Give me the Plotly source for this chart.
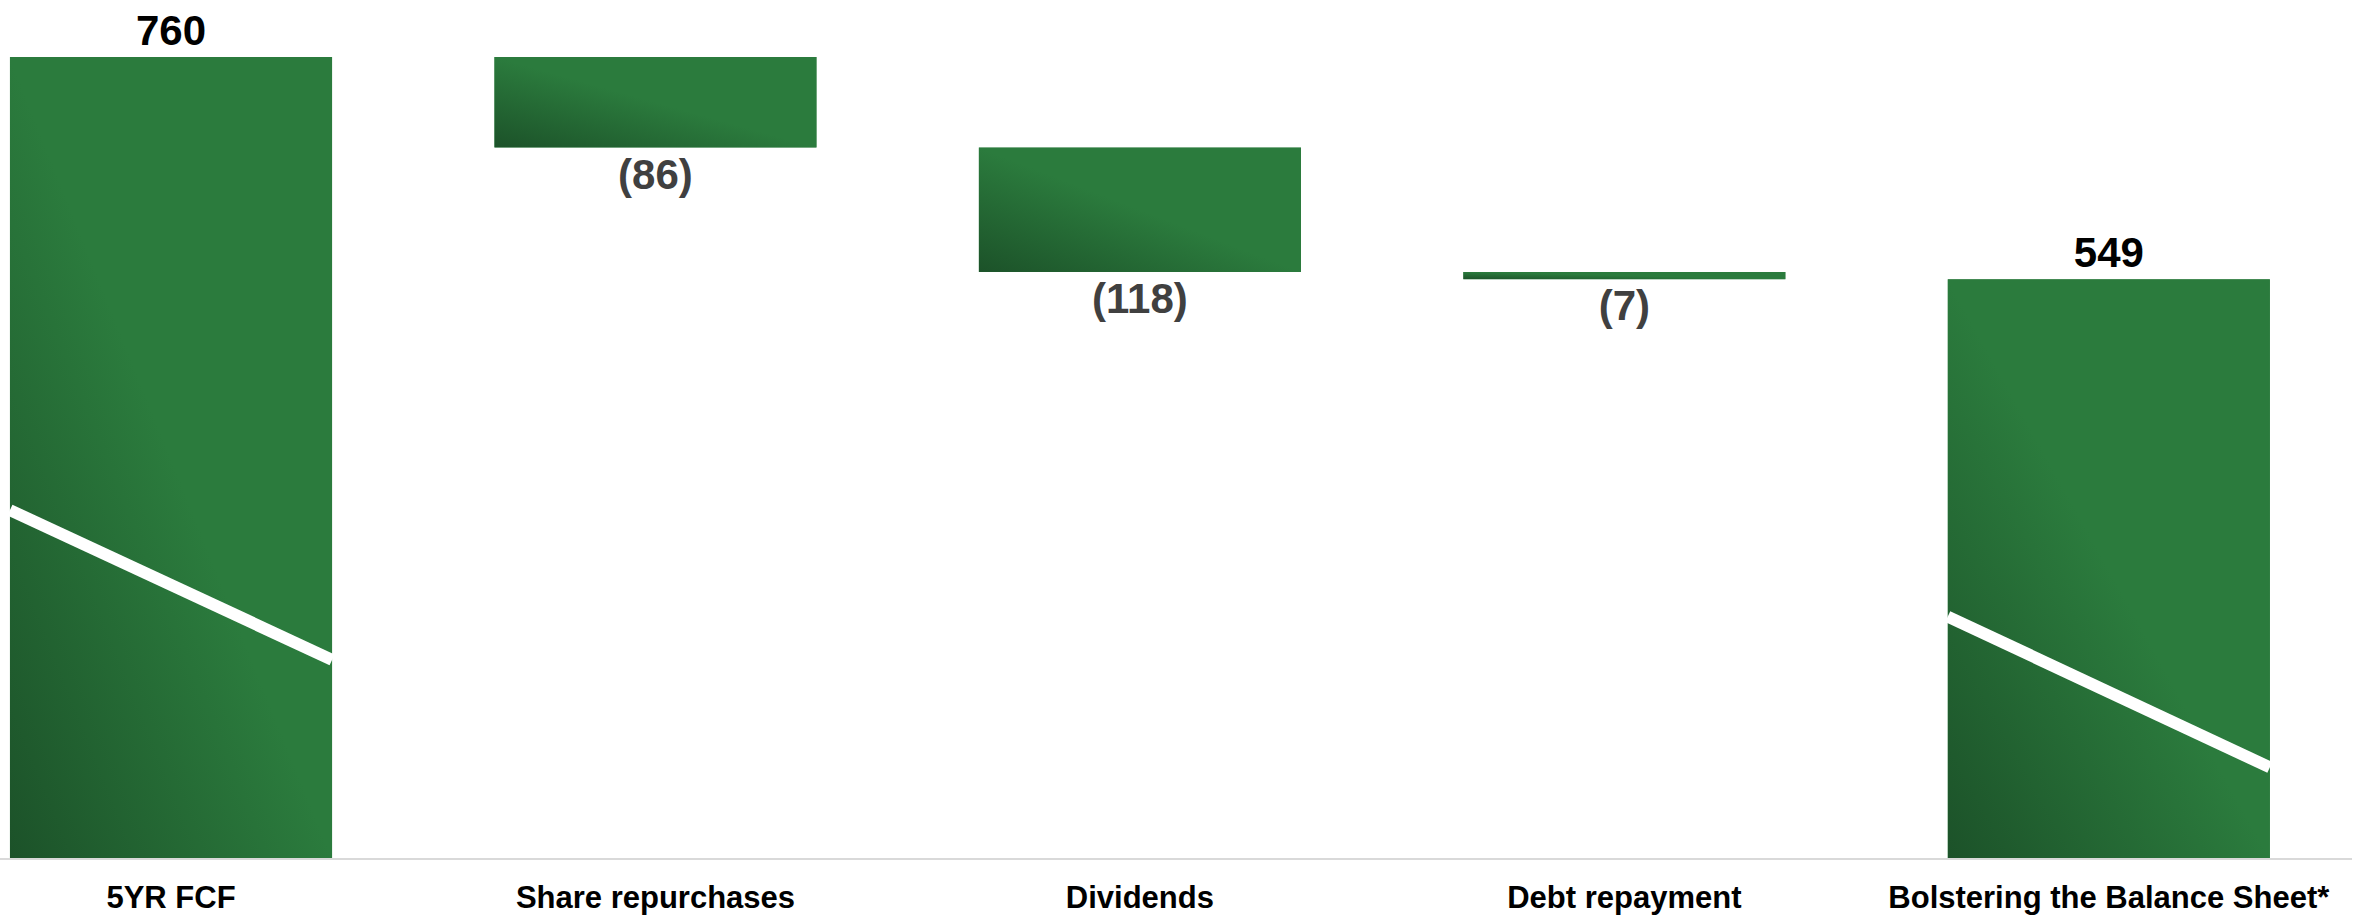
import base64
import plotly.graph_objects as go

categories = ["5YR FCF", "Share repurchases", "Dividends", "Debt repayment",
              "Bolstering the Balance Sheet*"]
values = [760, -86, -118, -7, 549]
measures = ["absolute", "relative", "relative", "relative", "total"]
value_labels = ["760", "(86)", "(118)", "(7)", "549"]

# white diagonal strokes on the two total bars: (bar index, y at left edge, y at right edge)
break_lines = [(0, 330, 188), (4, 229, 86)]

GREEN = "#2b7b3d"
DARK_GREEN = "#1c5229"
BAR_W = 0.665
FONT = "Arial, Liberation Sans, sans-serif"

# bar extents, computed the same way the waterfall does
bottoms, tops = [], []
running = 0
for v, m in zip(values, measures):
    if m == "absolute":
        lo, hi = 0, v
        running = v
    elif m == "total":
        lo, hi = 0, running
    else:
        lo, hi = sorted([running, running + v])
        running += v
    bottoms.append(lo)
    tops.append(hi)

label_colors = ["#000000" if v > 0 else "#404040" for v in values]

fig = go.Figure(go.Waterfall(
    x=categories,
    y=values,
    measure=measures,
    text=value_labels,
    textposition="outside",
    outsidetextfont=dict(family=FONT, size=42, color=label_colors, weight="bold"),
    textfont=dict(family=FONT, size=42, color=label_colors, weight="bold"),
    width=BAR_W,
    connector=dict(visible=False),
    increasing=dict(marker=dict(color=GREEN)),
    decreasing=dict(marker=dict(color=GREEN)),
    totals=dict(marker=dict(color=GREEN)),
    cliponaxis=False,
    hoverinfo="skip",
))

# diagonal gradient (dark bottom-left -> green top-right) laid over each bar
svg = ('<svg xmlns="http://www.w3.org/2000/svg" width="100" height="100" '
       'viewBox="0 0 100 100" preserveAspectRatio="none">'
       '<defs><linearGradient id="g" x1="0" y1="1" x2="1" y2="0">'
       f'<stop offset="0" stop-color="{DARK_GREEN}"/>'
       f'<stop offset="0.5" stop-color="{GREEN}"/>'
       f'<stop offset="1" stop-color="{GREEN}"/>'
       '</linearGradient></defs>'
       '<rect width="100" height="100" fill="url(#g)"/></svg>')
uri = "data:image/svg+xml;base64," + base64.b64encode(svg.encode()).decode()

for i in range(len(categories)):
    fig.add_layout_image(
        source=uri, xref="x", yref="y",
        x=i - BAR_W / 2, y=tops[i],
        sizex=BAR_W, sizey=tops[i] - bottoms[i],
        xanchor="left", yanchor="top",
        sizing="stretch", layer="above",
    )

for i, yl, yr in break_lines:
    fig.add_shape(
        type="line", xref="x", yref="y",
        x0=i - BAR_W / 2, y0=yl, x1=i + BAR_W / 2, y1=yr,
        line=dict(color="white", width=12),
        layer="above",
    )

fig.update_layout(
    width=2367,
    height=916,
    margin=dict(l=0, r=15, t=0, b=58, autoexpand=False),
    plot_bgcolor="white",
    paper_bgcolor="white",
    showlegend=False,
    font=dict(family=FONT),
)
fig.update_xaxes(
    range=[-0.353, 4.502],
    automargin=False,
    showline=True, linecolor="#d9d9d9", linewidth=2,
    showgrid=False, zeroline=False,
    ticks="outside", ticklen=11, tickcolor="rgba(0,0,0,0)",
    tickfont=dict(family=FONT, size=31, color="#000000", weight="bold"),
)
fig.update_yaxes(range=[0, 814], visible=False, showgrid=False, zeroline=False)

fig.write_html("out.html", config={"displayModeBar": False},
               post_script="document.body.style.margin='0';")
